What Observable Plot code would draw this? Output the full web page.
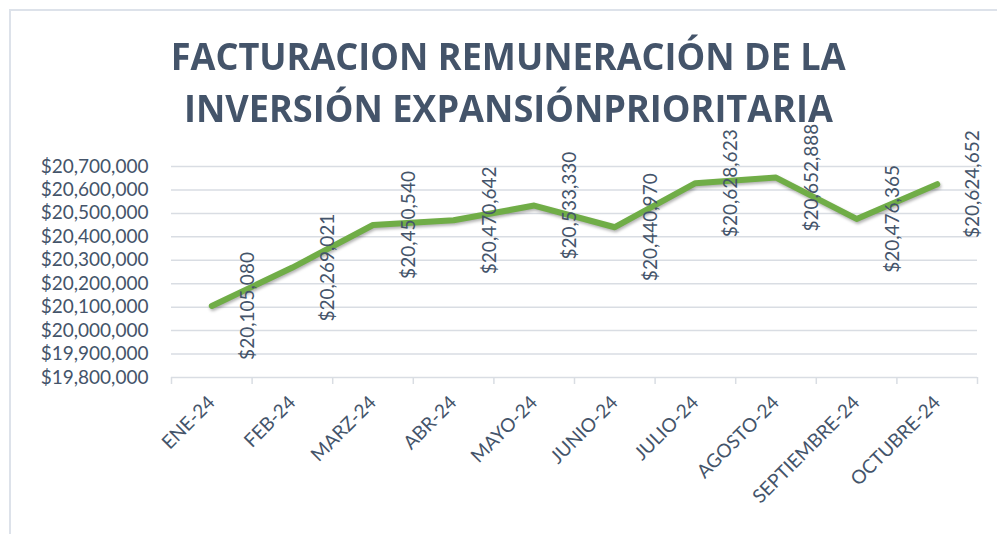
<!DOCTYPE html>
<html><head><meta charset="utf-8">
<script src="https://cdn.jsdelivr.net/npm/d3@7"></script>
<script src="https://cdn.jsdelivr.net/npm/@observablehq/plot@0.6"></script>
<style>
body{margin:0;background:#fff;overflow:hidden}
#wrap{position:relative;width:997px;height:534px;overflow:hidden;background:#fff}
#frame{position:absolute;left:9px;top:9px;width:1100px;height:700px;border:2px solid #dde2ea;box-sizing:border-box}
#title{position:absolute;left:10px;top:29px;width:997px;text-align:center;font:700 38px "Open Sans";color:#44546A;line-height:52px;z-index:2}
#title span{display:inline-block;white-space:nowrap;transform-origin:50% 50%}
#chart{position:absolute;left:0;top:0;z-index:1}
</style></head>
<body>
<div id="wrap">
  <div id="frame"></div>
  <div id="chart"></div>
  <div id="title"><span id="t1">FACTURACION REMUNERACIÓN DE LA</span><br><span id="t2">INVERSIÓN EXPANSIÓNPRIORITARIA</span></div>
</div>
<script>
const months = ["ENE-24","FEB-24","MARZ-24","ABR-24","MAYO-24","JUNIO-24","JULIO-24","AGOSTO-24","SEPTIEMBRE-24","OCTUBRE-24"];
const values = [20105080, 20269021, 20450540, 20470642, 20533330, 20440970, 20628623, 20652888, 20476365, 20624652];
const yTicks = [19800000,19900000,20000000,20100000,20200000,20300000,20400000,20500000,20600000,20700000];

const data = months.map((m, i) => ({m, pos: i + 0.5, v: values[i]}));
const fmt = d => "$" + d3.format(",")(d);
const textColor = "#44546A";
const gridColor = "#d9dde3";
const fs = 19;

const plot = Plot.plot({
  width: 997, height: 534,
  marginTop: 166, marginBottom: 157, marginLeft: 171, marginRight: 20,
  style: {fontFamily: "Lato", fontSize: fs + "px", color: textColor, background: "transparent", overflow: "visible"},
  x: {domain: [0, months.length], axis: null, label: null},
  y: {domain: [yTicks[0], yTicks[yTicks.length - 1]], axis: null, label: null},
  marks: [
    Plot.gridY(yTicks.slice(1), {stroke: gridColor, strokeOpacity: 1, strokeWidth: 1.5}),
    Plot.axisY(yTicks, {tickSize: 0, tickPadding: 23, tickFormat: fmt, fill: textColor, fontSize: fs, label: null}),
    Plot.ruleY([yTicks[0]], {stroke: gridColor, strokeWidth: 1.5}),
    Plot.axisX(d3.range(0, months.length + 1), {tickSize: 7, tickFormat: () => "", stroke: gridColor, strokeWidth: 1.5, label: null}),
    Plot.axisX(data.map(d => d.pos), {tickSize: 0, tickRotate: -45, tickPadding: 22, dx: 0, tickFormat: d => months[Math.floor(d)], fill: textColor, fontSize: fs, label: null}),
    Plot.line(data, {x: "pos", y: "v", stroke: "#70AD47", strokeWidth: 6, strokeLinecap: "round", strokeLinejoin: "round"}),
    Plot.text(data, {x: "pos", y: "v", text: d => fmt(d.v), rotate: -90, dx: 36, fill: textColor, fontSize: fs})
  ]
});
document.getElementById("chart").appendChild(plot);
const ln = plot.querySelector('[aria-label="line"]');
if (ln) ln.style.filter = "drop-shadow(1px 2px 1.5px rgba(0,0,0,0.3))";

// fit title width to reference
const t1 = document.getElementById("t1"), t2 = document.getElementById("t2");
const s = 675 / t1.getBoundingClientRect().width;
t1.style.transform = `scaleX(${s})`;
t2.style.transform = `scaleX(${s})`;
</script>
</body></html>
